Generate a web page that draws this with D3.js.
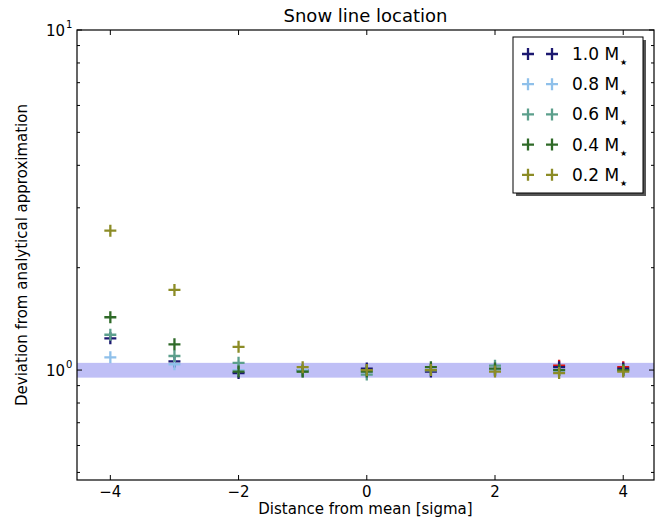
<!DOCTYPE html>
<html><head><meta charset="utf-8">
<script src="https://cdn.jsdelivr.net/npm/d3@7"></script>
<style>body{margin:0;background:#fff}svg{display:block}text{font-family:"DejaVu Sans",sans-serif;fill:#000}</style>
</head><body><svg id="c" width="660" height="518"></svg>
<script>
const xs = [-4, -3, -2, -1, 0, 1, 2, 3, 4];
const seriesNames = ["1.0", "0.8", "0.6", "0.4", "0.2"];
const seriesColors = ["#1c1870", "#8fc0ea", "#5c9f8c", "#2f6a28", "#8c8c26"];
const m10 = [1.24, 1.06, 0.98, 1.00, 1.01, 0.99, 1.00, 1.02, 1.01];
const m08 = [1.09, 1.04, 1.00, 1.00, 0.99, 1.00, 1.00, 1.00, 1.00];
const m06 = [1.27, 1.10, 1.05, 0.99, 0.97, 1.00, 1.03, 1.00, 1.00];
const m04 = [1.43, 1.19, 0.99, 0.99, 0.99, 1.02, 1.01, 1.00, 1.00];
const m02 = [2.57, 1.72, 1.17, 1.02, 1.00, 1.00, 0.99, 0.98, 0.99];
const redX = [3, 4];
const redV = [1.03, 1.02];
const bandLo = 0.95, bandHi = 1.05;
const xTicks = [-4, -2, 0, 2, 4];
const yMajor = [1, 10];
const yMinor = [0.5, 0.6, 0.7, 0.8, 0.9, 2, 3, 4, 5, 6, 7, 8, 9];
const title = "Snow line location";
const xLabel = "Distance from mean [sigma]";
const yLabel = "Deviation from analytical approximation";

const allSeries = [m10, m08, m06, m04, m02];
const svg = d3.select("#c");
const L = 77, R = 654, T = 30, B = 480;
const x = d3.scaleLinear().domain([-4.52, 4.48]).range([L, R]);
const y = d3.scaleLog().domain([0.475, 10]).range([B, T]);

// band
svg.append("rect").attr("x", L).attr("width", R - L)
  .attr("y", y(bandHi)).attr("height", y(bandLo) - y(bandHi))
  .attr("fill", "#bfbff6");

const plus = (g, cx, cy, col) => {
  const s = 6;
  g.append("path").attr("d", `M${cx - s},${cy}H${cx + s}M${cx},${cy - s}V${cy + s}`)
    .attr("stroke", col).attr("stroke-width", 2.3).attr("fill", "none");
};
const pts = svg.append("g");
redX.forEach((xv, i) => plus(pts, x(xv), y(redV[i]), "#e01010"));
allSeries.forEach((vals, si) => {
  vals.forEach((v, i) => plus(pts, x(xs[i]), y(v), seriesColors[si]));
});

// frame
svg.append("rect").attr("x", L).attr("y", T).attr("width", R - L).attr("height", B - T)
  .attr("fill", "none").attr("stroke", "#000").attr("stroke-width", 1.2);

// ticks (inward, all sides)
const tk = svg.append("g").attr("stroke", "#000").attr("stroke-width", 1);
xTicks.forEach(t => {
  tk.append("line").attr("x1", x(t)).attr("x2", x(t)).attr("y1", B).attr("y2", B - 5);
  tk.append("line").attr("x1", x(t)).attr("x2", x(t)).attr("y1", T).attr("y2", T + 5);
});
yMajor.forEach(t => {
  tk.append("line").attr("x1", L).attr("x2", L + 5).attr("y1", y(t)).attr("y2", y(t));
  tk.append("line").attr("x1", R).attr("x2", R - 5).attr("y1", y(t)).attr("y2", y(t));
});
yMinor.forEach(t => {
  tk.append("line").attr("x1", L).attr("x2", L + 3).attr("y1", y(t)).attr("y2", y(t));
  tk.append("line").attr("x1", R).attr("x2", R - 3).attr("y1", y(t)).attr("y2", y(t));
});

// x tick labels
xTicks.forEach(t => {
  svg.append("text").attr("x", x(t)).attr("y", B + 17).attr("text-anchor", "middle")
    .attr("font-size", 15).text(t < 0 ? "\u2212" + Math.abs(t) : String(t));
});
// y tick labels
yMajor.forEach(t => {
  const e = Math.round(Math.log10(t));
  svg.append("text").attr("x", L - 12).attr("y", y(t) + 6).attr("text-anchor", "end").attr("font-size", 15).text("10");
  svg.append("text").attr("x", L - 11).attr("y", y(t) - 2).attr("font-size", 10).text(String(e));
});

svg.append("text").attr("x", (L + R) / 2).attr("y", 22).attr("text-anchor", "middle")
  .attr("font-size", 18).text(title);
svg.append("text").attr("x", (L + R) / 2).attr("y", 514).attr("text-anchor", "middle")
  .attr("font-size", 15).text(xLabel);
svg.append("text").attr("transform", `translate(27,${(T + B) / 2}) rotate(-90)`)
  .attr("text-anchor", "middle").attr("font-size", 15).text(yLabel);

// legend
const lg = svg.append("g");
const lx = 513, ly = 37, lw = 130, lh = 156;
lg.append("rect").attr("x", lx + 3).attr("y", ly + 3).attr("width", lw).attr("height", lh).attr("fill", "#555");
lg.append("rect").attr("x", lx).attr("y", ly).attr("width", lw).attr("height", lh)
  .attr("fill", "#fff").attr("stroke", "#000").attr("stroke-width", 1);
seriesNames.forEach((n, i) => {
  const cy = 54 + i * 30.2;
  plus(lg, 528, cy, seriesColors[i]);
  plus(lg, 552, cy, seriesColors[i]);
  const t = lg.append("text").attr("x", 572).attr("y", cy + 6).attr("font-size", 17);
  t.append("tspan").text(n + " M");
  t.append("tspan").attr("dx", 1).attr("dy", 5).attr("font-size", 8).text("\u2605");
});
</script></body></html>
